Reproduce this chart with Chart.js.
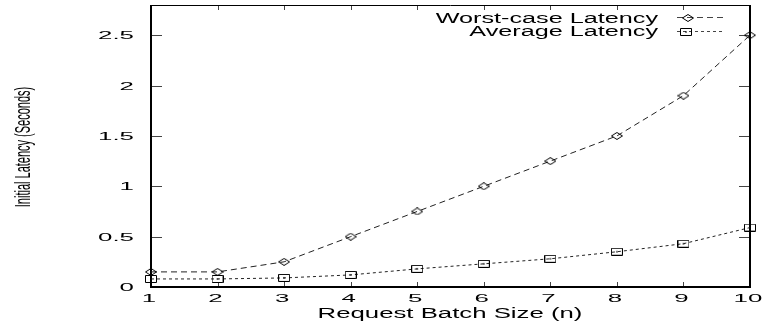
<!DOCTYPE html>
<html>
<head>
<meta charset="utf-8">
<script src="https://cdn.jsdelivr.net/npm/chart.js@4"></script>
<style>
  body { margin: 0; background: #fff; }
  canvas { display: block; }
</style>
</head>
<body>
<canvas id="latency_chart" width="762" height="322"></canvas>
<script>
const batch_sizes = [1, 2, 3, 4, 5, 6, 7, 8, 9, 10]
const worst_case = [0.15, 0.15, 0.25, 0.5, 0.75, 1.0, 1.25, 1.5, 1.9, 2.5]
const average = [0.08, 0.08, 0.09, 0.12, 0.18, 0.23, 0.28, 0.35, 0.43, 0.59]
const y_ticks = [0, 0.5, 1, 1.5, 2, 2.5]
const y_labels = ["0", "0.5", "1", "1.5", "2", "2.5"]
const x_labels = ["1", "2", "3", "4", "5", "6", "7", "8", "9", "10"]
const series_names = ["Worst-case Latency", "Average Latency"]

// gnuplot style hollow markers, a little flattened like the picture
const make_marker = (kind) => {
    const c = document.createElement("canvas")
    c.width = 12
    c.height = 8
    const g = c.getContext("2d")
    g.strokeStyle = "#000"
    g.lineWidth = 1
    g.beginPath()
    if (kind === "diamond") {
        g.moveTo(0.5, 4)
        g.lineTo(6, 0.5)
        g.lineTo(11.5, 4)
        g.lineTo(6, 7.5)
        g.closePath()
    } else {
        g.rect(0.5, 0.5, 11, 7)
    }
    g.stroke()
    if (kind === "square") {
        g.fillStyle = "#000"
        g.fillRect(5, 3.5, 2, 1)
    }
    return c
}
const diamond = make_marker("diamond")
const square = make_marker("square")

const to_points = (values) => values.map((v, i) => ({ x: batch_sizes[i], y: v }))

// wide text, as in the original figure
const stretch_text = (ctx, text, x, y, sx, align, font) => {
    ctx.save()
    ctx.font = font
    ctx.fillStyle = "#000"
    ctx.translate(x, y)
    ctx.scale(sx, 1)
    ctx.textAlign = align
    ctx.textBaseline = "alphabetic"
    ctx.fillText(text, 0, 0)
    ctx.restore()
}

const frame_plugin = {
    id: "frame",
    beforeDatasetsDraw(chart) {
        const ctx = chart.ctx
        const a = chart.chartArea
        const xs = chart.scales.x
        const ys = chart.scales.y
        ctx.save()
        ctx.lineWidth = 1
        // ticks, pointing inward on all four sides
        ctx.strokeStyle = "#444"
        y_ticks.forEach((t) => {
            const py = Math.round(ys.getPixelForValue(t)) + 0.5
            ctx.beginPath()
            ctx.moveTo(a.left, py); ctx.lineTo(a.left + 11, py)
            ctx.moveTo(a.right, py); ctx.lineTo(a.right - 11, py)
            ctx.stroke()
        })
        batch_sizes.forEach((b) => {
            const px = Math.round(xs.getPixelForValue(b)) + 0.5
            ctx.beginPath()
            ctx.moveTo(px, a.bottom); ctx.lineTo(px, a.bottom - 5)
            ctx.moveTo(px, a.top); ctx.lineTo(px, a.top + 5)
            ctx.stroke()
        })
        // border
        ctx.strokeStyle = "#000"
        ctx.lineWidth = 1
        ctx.beginPath()
        ctx.moveTo(a.left, a.top + 0.5); ctx.lineTo(a.right, a.top + 0.5)
        ctx.stroke()
        ctx.lineWidth = 2
        ctx.beginPath()
        ctx.moveTo(a.left, a.top); ctx.lineTo(a.left, a.bottom)
        ctx.lineTo(a.right, a.bottom); ctx.lineTo(a.right, a.top)
        ctx.stroke()
        ctx.restore()
    },
    afterDraw(chart) {
        const ctx = chart.ctx
        const xs = chart.scales.x
        const ys = chart.scales.y
        const tick_font = "11px 'Liberation Sans', Arial, sans-serif"
        const label_font = "14px 'Liberation Sans', Arial, sans-serif"

        y_ticks.forEach((t, i) => {
            stretch_text(ctx, y_labels[i], 134, ys.getPixelForValue(t) + 4, 2.35, "right", tick_font)
        })
        batch_sizes.forEach((b, i) => {
            stretch_text(ctx, x_labels[i], xs.getPixelForValue(b) - 2, 302, 2.35, "center", tick_font)
        })

        stretch_text(ctx, "Request Batch Size (n)", 450, 318, 1.84, "center", label_font)

        // y title, rotated and condensed
        ctx.save()
        ctx.font = "22px 'Liberation Sans', Arial, sans-serif"
        ctx.fillStyle = "#000"
        ctx.translate(24, 147)
        ctx.rotate(-Math.PI / 2)
        ctx.scale(0.5, 1)
        ctx.textAlign = "center"
        ctx.textBaseline = "middle"
        ctx.fillText("Initial Latency (Seconds)", 0, 0)
        ctx.restore()

        // key, text first then line sample like gnuplot
        const rows = [
            { name: series_names[0], base: 23, mid: 17.5, dash: [6, 4], marker: diamond, mx: 688 },
            { name: series_names[1], base: 36, mid: 31.5, dash: [3, 3], marker: square, mx: 686 },
        ]
        rows.forEach((r) => {
            stretch_text(ctx, r.name, 658, r.base, 1.8, "right", label_font)
            ctx.save()
            ctx.strokeStyle = "#444"
            ctx.lineWidth = 1
            ctx.setLineDash(r.dash)
            ctx.beginPath()
            ctx.moveTo(677, r.mid); ctx.lineTo(724, r.mid)
            ctx.stroke()
            ctx.restore()
            ctx.drawImage(r.marker, Math.round(r.mx - 6), Math.round(r.mid - 4))
        })
    }
}

const latency_config = {
    type: "line",
    data: {
        datasets: [{
            label: series_names[0],
            data: to_points(worst_case),
            borderColor: "#222",
            borderWidth: 1,
            borderDash: [6, 4],
            pointStyle: diamond,
            pointRadius: 4,
            tension: 0,
            clip: false,
        }, {
            label: series_names[1],
            data: to_points(average),
            borderColor: "#222",
            borderWidth: 1,
            borderDash: [3, 3],
            pointStyle: square,
            pointRadius: 4,
            tension: 0,
            clip: false,
        }]
    },
    options: {
        responsive: false,
        animation: false,
        devicePixelRatio: 1,
        layout: { padding: { left: 151, right: 12, top: 2, bottom: 35 } },
        plugins: { legend: { display: false }, tooltip: { enabled: false } },
        scales: {
            x: { type: "linear", min: 1, max: 10, display: false },
            y: { type: "linear", min: 0, max: 2.8, display: false },
        }
    },
    plugins: [frame_plugin]
}

const ctx_latency = document.getElementById("latency_chart")
const latency_chart = new Chart(ctx_latency, latency_config)
</script>
</body>
</html>
